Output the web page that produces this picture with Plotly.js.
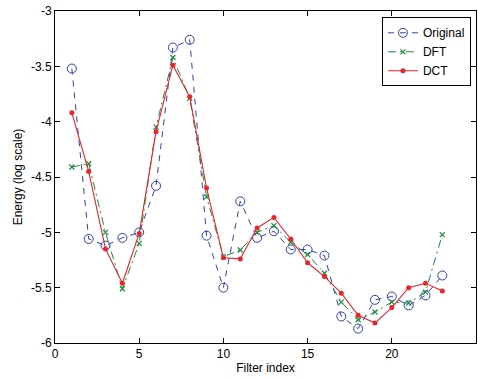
<!DOCTYPE html>
<html>
<head>
<meta charset="utf-8">
<script src="https://cdn.plot.ly/plotly-3.0.1.min.js"></script>
<style>html,body{margin:0;padding:0;background:#fff;}#chart{width:478px;height:378px;}</style>
</head>
<body>
<div id="chart"></div>
<script>
const filterIndex = [1,2,3,4,5,6,7,8,9,10,11,12,13,14,15,16,17,18,19,20,21,22,23];
const originalVals = [-3.52,-5.06,-5.12,-5.05,-5.00,-4.58,-3.33,-3.26,-5.03,-5.50,-4.72,-5.05,-4.99,-5.155,-5.155,-5.21,-5.76,-5.87,-5.61,-5.58,-5.66,-5.57,-5.39];
const dftVals = [-4.41,-4.38,-5.00,-5.51,-5.10,-4.05,-3.42,-3.79,-4.68,-5.22,-5.16,-5.00,-4.94,-5.09,-5.20,-5.37,-5.63,-5.79,-5.72,-5.63,-5.64,-5.54,-5.02];
const dctVals = [-3.92,-4.45,-5.15,-5.46,-5.01,-4.09,-3.49,-3.775,-4.60,-5.23,-5.24,-4.96,-4.865,-5.06,-5.275,-5.40,-5.55,-5.75,-5.82,-5.68,-5.50,-5.46,-5.53];
const seriesNames = ['Original','DFT','DCT'];
const xTicks = [0,5,10,15,20,25];
const yTicks = [-6,-5.5,-5,-4.5,-4,-3.5,-3];

const blue = '#2f3fb3', green = '#1e8a3c', red = '#e8242c';
const traces = [
  {x: filterIndex, y: originalVals, name: seriesNames[0], mode: 'lines+markers',
   line: {color: blue, width: 1, dash: '6px,6px'},
   marker: {symbol: 'circle-open', size: 9, color: blue, line: {width: 1, color: blue}}},
  {x: filterIndex, y: dftVals, name: seriesNames[1], mode: 'lines+markers',
   line: {color: green, width: 1, dash: '8px,4px,2px,4px'},
   marker: {symbol: 'x-thin-open', size: 5, color: green, line: {width: 1.2, color: green}}},
  {x: filterIndex, y: dctVals, name: seriesNames[2], mode: 'lines+markers',
   line: {color: red, width: 1.1},
   marker: {symbol: 'circle', size: 5, color: red}}
];

const axisCommon = {
  showgrid: false, zeroline: false, showline: true, linecolor: '#000', linewidth: 1,
  mirror: 'ticks', ticks: 'inside', ticklen: 5, tickcolor: '#000', tickwidth: 1,
  tickfont: {family: 'Liberation Sans, Arial, sans-serif', size: 12, color: '#000'}
};

const layout = {
  width: 478, height: 378,
  margin: {l: 55, r: 2, t: 11, b: 35},
  paper_bgcolor: '#fff', plot_bgcolor: '#fff',
  font: {family: 'Liberation Sans, Arial, sans-serif', color: '#000'},
  xaxis: Object.assign({}, axisCommon, {
    range: [0, 25], tickvals: xTicks, ticktext: xTicks.map(String),
    title: {text: 'Filter index', font: {size: 12}, standoff: 3}
  }),
  yaxis: Object.assign({}, axisCommon, {
    range: [-6, -3], tickvals: yTicks, ticktext: yTicks.map(String),
    title: {text: 'Energy (log scale)', font: {size: 12}, standoff: 5}
  }),
  showlegend: true,
  legend: {x: 0.988, xanchor: 'right', y: 0.981, yanchor: 'top',
    bordercolor: '#000', borderwidth: 1, bgcolor: '#fff',
    font: {size: 12, color: '#000'}, tracegroupgap: 0, itemwidth: 30}
};

Plotly.newPlot('chart', traces, layout, {staticPlot: true, displayModeBar: false});
</script>
</body>
</html>
